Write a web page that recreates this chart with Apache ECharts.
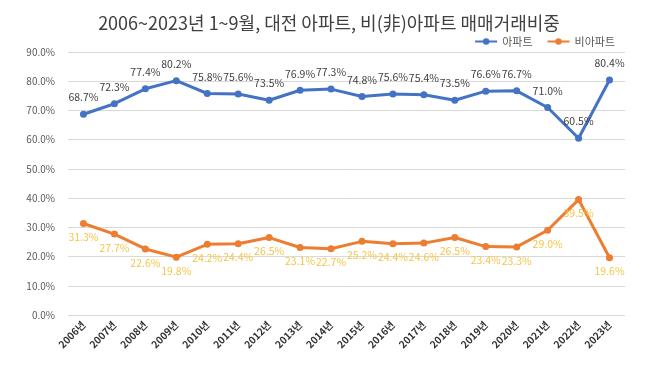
<!DOCTYPE html>
<html><head><meta charset="utf-8">
<script src="https://cdn.jsdelivr.net/npm/echarts@6/dist/echarts.min.js"></script>
<style>html,body{margin:0;padding:0;background:#fff}#c{width:658px;height:369px}</style>
</head><body><div id="c"></div>
<script>
const years = ['2006년','2007년','2008년','2009년','2010년','2011년','2012년','2013년','2014년','2015년','2016년','2017년','2018년','2019년','2020년','2021년','2022년','2023년'];
const apt = [68.7,72.3,77.4,80.2,75.8,75.6,73.5,76.9,77.3,74.8,75.6,75.4,73.5,76.6,76.7,71.0,60.5,80.4];
const nonApt = [31.3,27.7,22.6,19.8,24.2,24.4,26.5,23.1,22.7,25.2,24.4,24.6,26.5,23.4,23.3,29.0,39.5,19.6];
const chart = echarts.init(document.getElementById('c'));
const font = '"Noto Sans CJK KR","Noto Sans",sans-serif';
chart.setOption({
  animation:false,
  textStyle:{fontFamily:font},
  title:{text:'2006~2023년 1~9월, 대전 아파트, 비(非)아파트 매매거래비중',left:'center',top:9,
    textStyle:{fontFamily:font,fontSize:18,fontWeight:'normal',color:'#404040'}},
  legend:{right:38,top:31,itemWidth:22,itemHeight:8,itemGap:14,
    textStyle:{fontFamily:font,fontSize:11,color:'#595959'},
    data:['아파트','비아파트']},
  grid:{left:68,right:33,top:52,bottom:54},
  xAxis:{type:'category',data:years,boundaryGap:true,
    axisLine:{show:false},axisTick:{show:false},
    axisLabel:{rotate:45,fontSize:10,fontWeight:'bold',color:'#333',margin:8,interval:0}},
  yAxis:{type:'value',min:0,max:90,interval:10,
    axisLabel:{formatter:v=>v.toFixed(1)+'%',fontSize:10,color:'#595959',margin:13},
    splitLine:{lineStyle:{color:'#d9d9d9',width:1}}},
  series:[
    {name:'아파트',type:'line',data:apt,color:'#4472C4',symbol:'circle',symbolSize:7,
      lineStyle:{width:3},
      label:{show:true,position:'top',distance:8,formatter:p=>p.value.toFixed(1)+'%',fontSize:10.5,color:'#404040'}},
    {name:'비아파트',type:'line',data:nonApt,color:'#ED7D31',symbol:'circle',symbolSize:7,
      lineStyle:{width:3},
      label:{show:true,position:'bottom',distance:5,formatter:p=>p.value.toFixed(1)+'%',fontSize:10.5,color:'#F4C545'}}
  ]
});
</script></body></html>
